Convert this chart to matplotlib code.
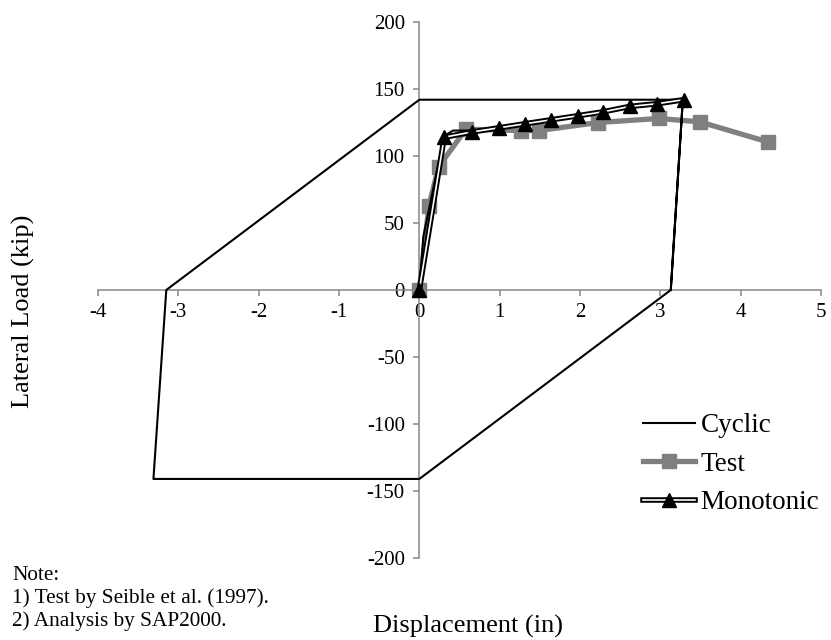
import matplotlib
matplotlib.use("Agg")
import matplotlib.pyplot as plt
import matplotlib.patheffects as pe
from matplotlib.legend_handler import HandlerTuple

plt.rcParams['font.family'] = ['Liberation Serif', 'DejaVu Serif']

# Cyclic analysis path
cyc_x = [0, 0.05, 0.31, 0.42, 0.66, 0.99, 1.31, 1.64, 1.97, 2.29, 2.62, 2.96, 3.28,
         3.13, 0.0, -3.31, -3.15, 0.0, 3.28, 3.13]
cyc_y = [0, 40, 115, 119, 119, 121, 124, 127, 130, 133, 137, 139, 142,
         0, -141, -141, 0, 142, 142, 0]

# Test (Seible et al. 1997)
test_x = [0, 0.12, 0.24, 0.58, 1.27, 1.49, 2.23, 2.98, 3.49, 4.34]
test_y = [0, 63, 92, 120, 119, 119, 125, 128, 125.5, 110.5]

# Monotonic analysis
mono_x = [0, 0.31, 0.66, 0.99, 1.31, 1.64, 1.97, 2.29, 2.62, 2.96, 3.29]
mono_y = [0, 114, 118, 121, 124, 127, 130, 133, 137, 139, 142]

x_ticks = [-4, -3, -2, -1, 0, 1, 2, 3, 4, 5]
y_ticks = [-200, -150, -100, -50, 0, 50, 100, 150, 200]

W, H = 831, 640
fig = plt.figure(figsize=(W/100, H/100), dpi=100)
ax = fig.add_axes([98/W, 1-558/H, (821-98)/W, (558-22)/H])

h_test, = ax.plot(test_x, test_y, color='#808080', lw=3.8, marker='s', ms=10.5,
                  label='Test', zorder=2)
h_cyc, = ax.plot(cyc_x, cyc_y, color='black', lw=1.5, label='Cyclic', zorder=3)
h_mono_line, = ax.plot(mono_x, mono_y, color='white', lw=1.2, zorder=4,
                       path_effects=[pe.Stroke(linewidth=4.0, foreground='black'), pe.Normal()])
h_mono_mk, = ax.plot(mono_x, mono_y, ls='none', marker='^', ms=9.5,
                     markerfacecolor='black', markeredgecolor='black', zorder=5)

ax.set_xlim(-4, 5)
ax.set_ylim(-200, 200)
ax.set_xticks(x_ticks)
ax.set_yticks(y_ticks)
ax.set_xticklabels([str(v) for v in x_ticks])
ax.set_yticklabels([str(v) for v in y_ticks])

for s in ['top', 'right']:
    ax.spines[s].set_visible(False)
ax.spines['left'].set_position(('data', 0))
ax.spines['bottom'].set_position(('data', 0))
for s in ['left', 'bottom']:
    ax.spines[s].set_color('#868686')
    ax.spines[s].set_linewidth(1.1)
ax.tick_params(axis='both', colors='#868686', length=4.5, width=1.1, labelsize=15,
               labelcolor='black', direction='out')
ax.tick_params(axis='x', pad=5)
ax.tick_params(axis='y', pad=6)

fig.text(23/W, 1-311/H, 'Lateral Load (kip)', rotation=90, ha='center', va='center',
         fontsize=19)
fig.text(468/W, 1-633/H, 'Displacement (in)', ha='center', va='baseline', fontsize=19)

note_lines = ['Note:', '1) Test by Seible et al. (1997).', '2) Analysis by SAP2000.']
for i, t in enumerate(note_lines):
    fig.text(12/W, 1-(580+23*i)/H, t, ha='left', va='baseline', fontsize=15.3)

leg = ax.legend([h_cyc, h_test, (h_mono_line, h_mono_mk)], ['Cyclic', 'Test', 'Monotonic'],
                handler_map={tuple: HandlerTuple(ndivide=1, pad=0)},
                loc='upper left', bbox_to_anchor=(643/W, 1-413/H),
                bbox_transform=fig.transFigure, frameon=False, fontsize=19.5,
                handlelength=1.93, handletextpad=0.19, labelspacing=0.5, borderpad=0,
                borderaxespad=0)

fig.savefig('out.png', dpi=100)
